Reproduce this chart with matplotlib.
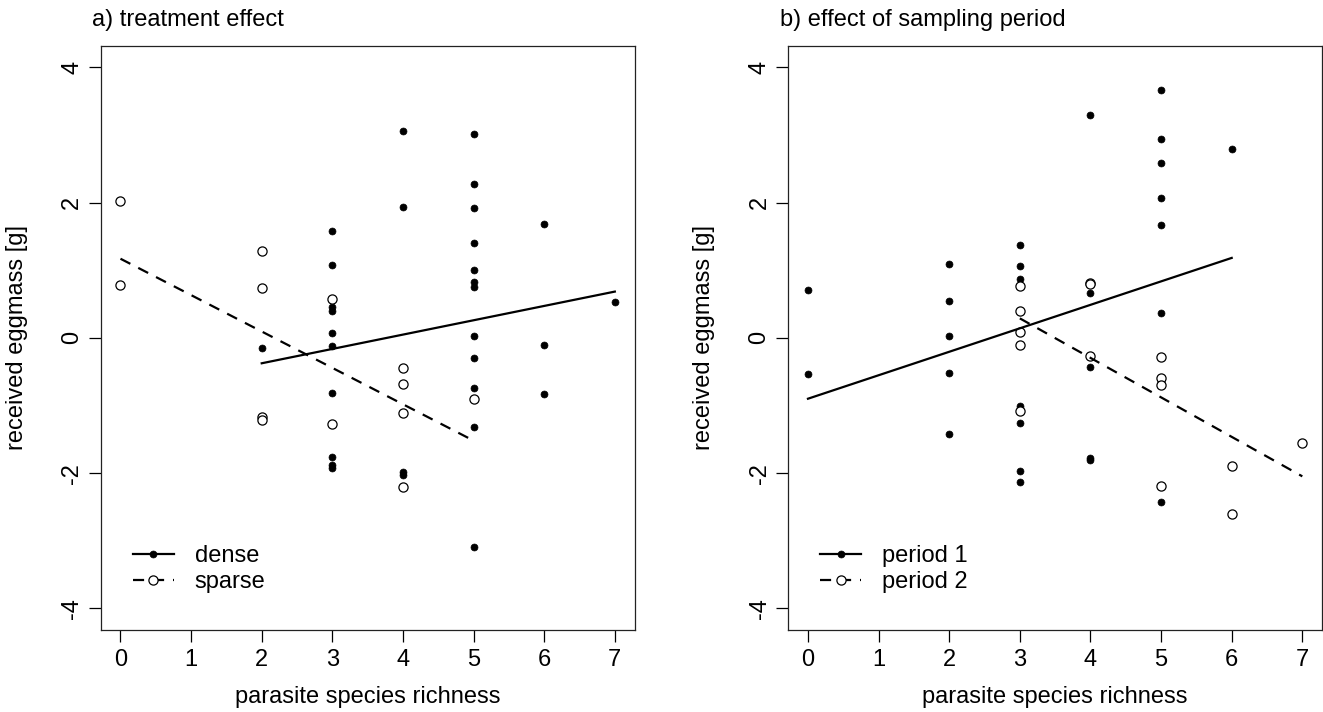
import matplotlib
matplotlib.use("Agg")
import matplotlib.pyplot as plt
from matplotlib.lines import Line2D
import numpy as np

plt.rcParams['font.family'] = ['Liberation Sans', 'DejaVu Sans']

# ---------------- data: panel a) treatment effect ----------------
dense_x = [2,
           3, 3, 3, 3, 3, 3, 3, 3, 3, 3,
           4, 4, 4, 4,
           5, 5, 5, 5, 5, 5, 5, 5, 5, 5, 5, 5,
           6, 6, 6,
           7]
dense_y = [-0.15,
           1.58, 1.08, 0.45, 0.39, 0.07, -0.12, -0.81, -1.76, -1.88, -1.92,
           3.06, 1.94, -1.99, -2.03,
           3.01, 2.27, 1.92, 1.40, 1.00, 0.82, 0.75, 0.02, -0.30, -0.74, -1.32, -3.09,
           1.68, -0.11, -0.83,
           0.53]
sparse_x = [0, 0, 2, 2, 2, 2, 3, 3, 4, 4, 4, 4, 5]
sparse_y = [2.03, 0.78, 1.28, 0.74, -1.17, -1.22, 0.57, -1.27,
            -0.44, -0.68, -1.11, -2.20, -0.91]

# fitted lines (intercept, slope)
dense_fit = (-0.80, 0.212)
sparse_fit = (1.17, -0.538)

# ---------------- data: panel b) sampling period ----------------
p1_x = [0, 0,
        2, 2, 2, 2, 2,
        3, 3, 3, 3, 3, 3, 3,
        4, 4, 4, 4, 4,
        5, 5, 5, 5, 5, 5, 5, 5,
        6]
p1_y = [0.71, -0.54,
        1.09, 0.55, 0.02, -0.52, -1.42,
        1.37, 1.06, 0.87, -1.01, -1.26, -1.97, -2.13,
        3.29, 0.67, -0.43, -1.77, -1.80,
        3.67, 2.94, 2.59, 2.07, 1.67, 0.37, -0.65, -2.43,
        2.79]
p2_x = [3, 3, 3, 3, 3,
        4, 4, 4,
        5, 5, 5, 5,
        6, 6,
        7]
p2_y = [0.77, 0.40, 0.08, -0.10, -1.08,
        0.81, 0.79, -0.27,
        -0.28, -0.60, -0.69, -2.19,
        -1.89, -2.60,
        -1.56]

p1_fit = (-0.90, 0.347)
p2_fit = (2.04, -0.584)

x_ticks = [0, 1, 2, 3, 4, 5, 6, 7]
y_ticks = [-4, -2, 0, 2, 4]
titles = ["a) treatment effect", "b) effect of sampling period"]
xlabel = "parasite species richness"
ylabel = "received eggmass [g]"
legend_a = ["dense", "sparse"]
legend_b = ["period 1", "period 2"]

# ---------------- figure ----------------
W, H = 1323, 712
fig = plt.figure(figsize=(W / 100, H / 100), dpi=100)
ax_w = 533.9 / W
ax_h = 584.3 / H
ax_b = 1 - 630 / H
axA = fig.add_axes([100.7 / W, ax_b, ax_w, ax_h])
axB = fig.add_axes([788.2 / W, ax_b, ax_w, ax_h])

FS = 17
open_kw = dict(marker='o', markersize=6.6, markerfacecolor='white',
               markeredgecolor='black', markeredgewidth=0.9, linestyle='none')
fill_kw = dict(marker='o', markersize=5.0, markerfacecolor='black',
               markeredgecolor='black', markeredgewidth=0.5, linestyle='none')
solid_kw = dict(color='black', lw=1.6, linestyle='-')
dash_kw = dict(color='black', lw=1.6, linestyle=(0, (5, 4)))


def fitline(ax, xs, fit, kw):
    xr = np.array([min(xs), max(xs)], dtype=float)
    ax.plot(xr, fit[0] + fit[1] * xr, **kw)


def style(ax, title, labels):
    ax.set_xlim(-0.28, 7.28)
    ax.set_ylim(-4.32, 4.32)
    ax.set_xticks(x_ticks)
    ax.set_yticks(y_ticks)
    ax.set_xticklabels([str(v) for v in x_ticks], fontsize=FS)
    ax.set_yticklabels([str(v) for v in y_ticks], fontsize=FS,
                       rotation=90, va='center', ha='center')
    ax.tick_params(axis='both', direction='out', length=8.6, width=0.9,
                   color='black')
    ax.tick_params(axis='x', pad=5.0)
    ax.tick_params(axis='y', pad=12.0)
    for s in ax.spines.values():
        s.set_linewidth(0.9)
        s.set_color('#222222')
    ax.set_xlabel(xlabel, fontsize=FS, va='center')
    ax.xaxis.set_label_coords(0.5, (630 - 697) / 584.3)
    ax.set_ylabel(ylabel, fontsize=FS, va='center')
    ax.yaxis.set_label_coords((16.7 - 100.7) / 533.9, 0.5)
    ax.text((92 - 100.7) / 533.9, (630 - 20) / 584.3, title,
            transform=ax.transAxes, ha='left', va='center', fontsize=FS)
    handles = [Line2D([], [], **{**solid_kw, **{k: v for k, v in fill_kw.items() if k != 'linestyle'}}),
               Line2D([], [], **{**dash_kw, **{k: v for k, v in open_kw.items() if k != 'linestyle'}})]
    ax.legend(handles, labels, loc='center left',
              bbox_to_anchor=(0.0603, 0.104), frameon=False, fontsize=FS,
              handlelength=1.74, handletextpad=0.87, labelspacing=0.17,
              borderpad=0.0, borderaxespad=0.0)


# panel a
axA.plot(dense_x, dense_y, **fill_kw)
axA.plot(sparse_x, sparse_y, **open_kw)
fitline(axA, dense_x, dense_fit, solid_kw)
fitline(axA, sparse_x, sparse_fit, dash_kw)
style(axA, titles[0], legend_a)

# panel b
axB.plot(p1_x, p1_y, **fill_kw)
axB.plot(p2_x, p2_y, **open_kw)
fitline(axB, p1_x, p1_fit, solid_kw)
fitline(axB, p2_x, p2_fit, dash_kw)
style(axB, titles[1], legend_b)

fig.savefig("out.png", dpi=100)
